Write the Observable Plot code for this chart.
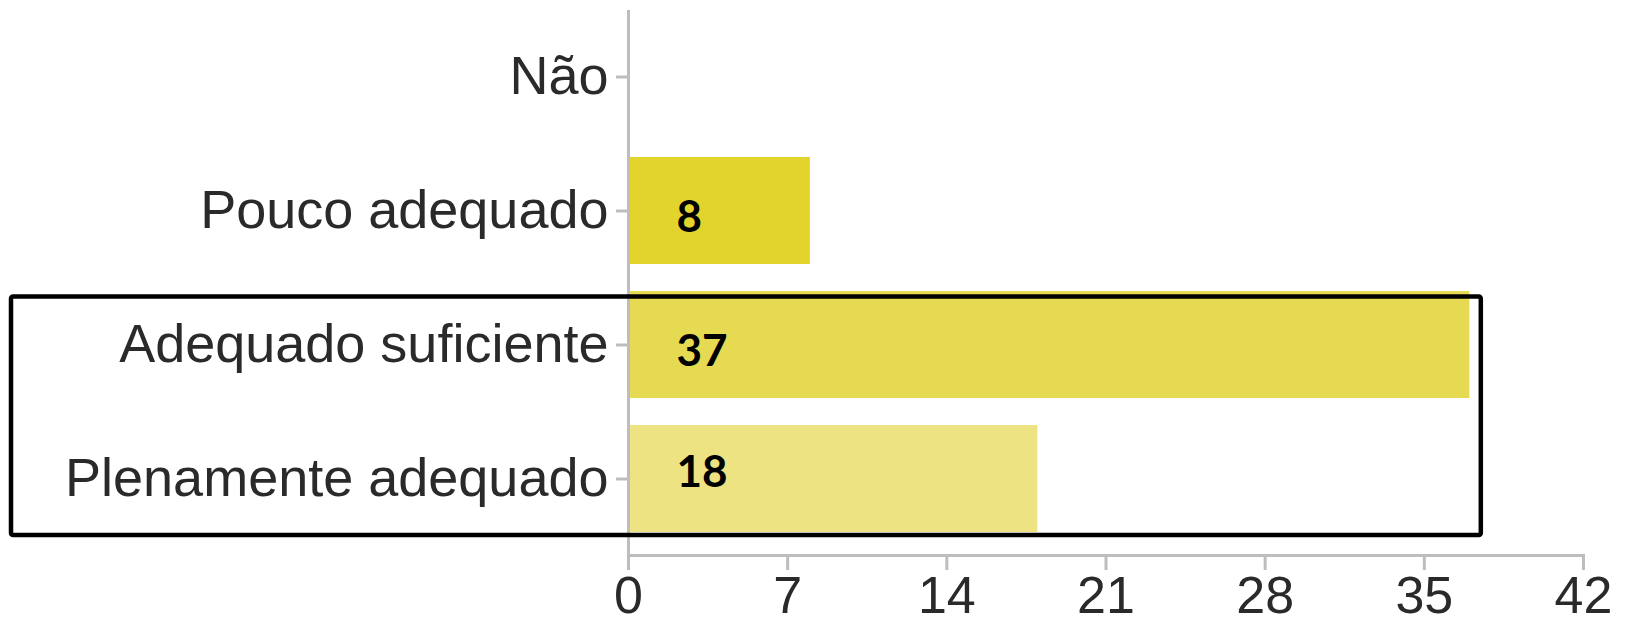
<!DOCTYPE html>
<html>
<head>
<meta charset="utf-8">
<script src="https://cdn.jsdelivr.net/npm/d3@7"></script>
<script src="https://cdn.jsdelivr.net/npm/@observablehq/plot@0.6"></script>
<style>
  html, body { margin: 0; padding: 0; background: #fff; }
</style>
</head>
<body>
<div id="chart"></div>
<script>
const categories = ["Não", "Pouco adequado", "Adequado suficiente", "Plenamente adequado"];
const values = [0, 8, 37, 18];
const colors = ["#E2D42C", "#E2D42C", "#E6DA53", "#EDE383"];
const xTicks = [0, 7, 14, 21, 28, 35, 42];
const highlighted = ["Adequado suficiente", "Plenamente adequado"];

const data = categories.map((c, i) => ({category: c, value: values[i], color: colors[i]}));
const labelled = data.filter(d => d.value > 0);

const axisGray = "#BDBDBD";
const textColor = "#2a2a2a";

// annotation box around highlighted categories
function highlightBox(index, scales, values, dimensions) {
  const x = scales.x, y = scales.y;
  const bw = y.bandwidth ? y.bandwidth() : 0;
  const top = y(highlighted[0]) + 5.5;
  const bottom = y(highlighted[highlighted.length - 1]) + bw + 3;
  const left = 11;
  const right = x(d3.max(data, d => d.value)) + 11.5;
  const r = d3.create("svg:rect")
    .attr("x", left).attr("y", top)
    .attr("width", right - left).attr("height", bottom - top)
    .attr("rx", 2)
    .attr("fill", "none").attr("stroke", "#000").attr("stroke-width", 4.5);
  return r.node();
}

const labelFont = {fontSize: 44, fontWeight: "bold", fontFamily: "Lato, 'Open Sans', sans-serif", fill: "#000"};

const chart = Plot.plot({
  width: 1625,
  height: 626,
  marginLeft: 628,
  marginRight: 42,
  marginTop: 10,
  marginBottom: 71,
  style: {fontFamily: "'Liberation Sans', Arial, sans-serif", background: "#fff"},
  x: {domain: [0, 42], ticks: xTicks},
  y: {domain: categories, range: [8.5, 546.5], paddingInner: 0.2, paddingOuter: 0.1},
  marks: [
    Plot.barX(data, {y: "category", x: "value", fill: "color"}),
    Plot.ruleX([0], {stroke: axisGray, strokeWidth: 3, insetBottom: -15}),
    Plot.frame({anchor: "bottom", stroke: axisGray, strokeWidth: 3}),
    Plot.axisX({ticks: xTicks, tickSize: 15, tickPadding: 6, stroke: axisGray, strokeWidth: 3,
      fill: textColor, fontSize: 52, label: null}),
    Plot.axisY({tickSize: 12, tickPadding: 8, stroke: axisGray, strokeWidth: 3,
      fill: textColor, fontSize: 54, label: null}),
    Plot.text(labelled.filter(d => d.category !== "Plenamente adequado"), {
      y: "category", x: 0, text: d => String(d.value), textAnchor: "start",
      dx: 48, dy: 7, ...labelFont
    }),
    Plot.text(labelled.filter(d => d.category === "Plenamente adequado"), {
      y: "category", x: 0, text: d => String(d.value), textAnchor: "start",
      dx: 48, dy: -6.5, ...labelFont
    }),
    highlightBox
  ]
});
document.getElementById("chart").appendChild(chart);
</script>
</body>
</html>
